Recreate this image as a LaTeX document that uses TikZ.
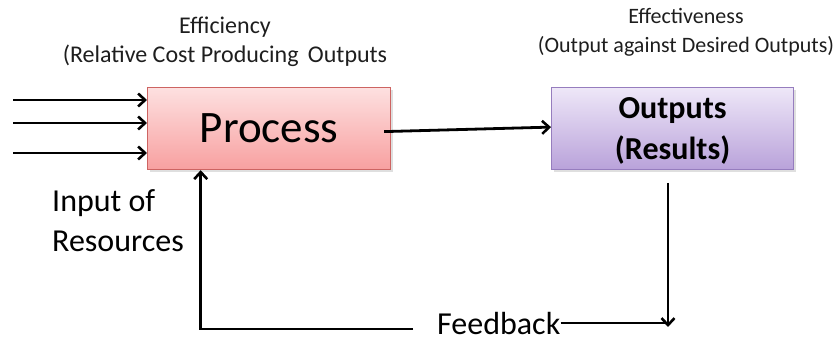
\documentclass[tikz,border=0pt]{standalone}
\usepackage{fontspec}
\setmainfont{Carlito}
\usetikzlibrary{arrows.meta,calc,shadows}
\definecolor{proctop}{RGB}{253,224,224}
\definecolor{procbot}{RGB}{248,160,160}
\definecolor{procline}{RGB}{205,100,98}
\definecolor{outtop}{RGB}{238,231,248}
\definecolor{outbot}{RGB}{185,162,218}
\definecolor{outline}{RGB}{150,125,190}
\definecolor{txt}{RGB}{30,30,30}
\begin{document}
\begin{tikzpicture}[x=1pt,y=-1pt,
  arr/.style={line width=2.8pt,-{Straight Barb[length=7pt,width=13pt,line width=2.6pt]}},
  plainline/.style={line width=2.8pt},
  boxshadow/.style={drop shadow={opacity=0.25,shadow xshift=2pt,shadow yshift=-2pt}},
  procbox/.style={draw=procline,line width=1.2pt,top color=proctop,bottom color=procbot,
    boxshadow,minimum width=243pt,minimum height=82pt,inner sep=0pt,
    font=\fontsize{45}{45}\selectfont},
  outbox/.style={draw=outline,line width=1.2pt,top color=outtop,bottom color=outbot,
    boxshadow,minimum width=242pt,minimum height=82pt,inner sep=0pt,align=center,
    text height=62pt,text depth=0pt,
    font=\bfseries\fontsize{32}{41}\selectfont},
  smalllbl/.style={inner sep=0pt,align=center,text=txt,text depth=0pt},
  biglbl/.style={inner sep=0pt,text=black,font=\fontsize{32}{40}\selectfont}
]
\useasboundingbox (0,0) rectangle (839,339);

\node[procbox,anchor=north west] (process) at (147,87) {Process};
\node[outbox,anchor=north west] (outputs) at (551,87) {Outputs\\(Results)};

\node[smalllbl,anchor=north,text height=44.5pt,font=\fontsize{24}{29}\selectfont] (eff) at (225,17.5)
  {Efficiency\\(Relative Cost Producing\hspace{4pt} Outputs};
\node[smalllbl,anchor=north,text height=43pt,font=\fontsize{22}{29}\selectfont] (effv) at (686,9)
  {Effectiveness\\(Output against Desired Outputs)};

\node[biglbl,align=left,anchor=north west,text height=61pt,text depth=0pt] (inputlbl) at (52,190.7)
  {Input of\\Resources};
\node[biglbl,anchor=base west] (feedback) at (437,335) {Feedback};

\coordinate (in1) at (13,100);
\coordinate (in2) at (13,123);
\coordinate (in3) at (13,153);
\draw[arr] (in1) -- (in1 -| process.west);
\draw[arr] (in2) -- (in2 -| process.west);
\draw[arr] (in3) -- (in3 -| process.west);

\draw[arr] ($(process.east)+(-7,3)$) -- ($(outputs.west)+(0,-1.5)$);

\coordinate (fbtop) at (668,183);
\coordinate (fbbot) at (668,327);
\draw[arr] (fbtop) -- (fbbot);
\draw[plainline] ($(feedback.east)+(0,-1)$) -- ($(feedback.east -| fbbot)+(0,-1)$);

\coordinate (fbleft) at (413,329);
\coordinate (fbcorner) at (200.7,329);
\draw[arr] (fbleft) -- (fbcorner) -- (fbcorner |- process.south);
\end{tikzpicture}
\end{document}
